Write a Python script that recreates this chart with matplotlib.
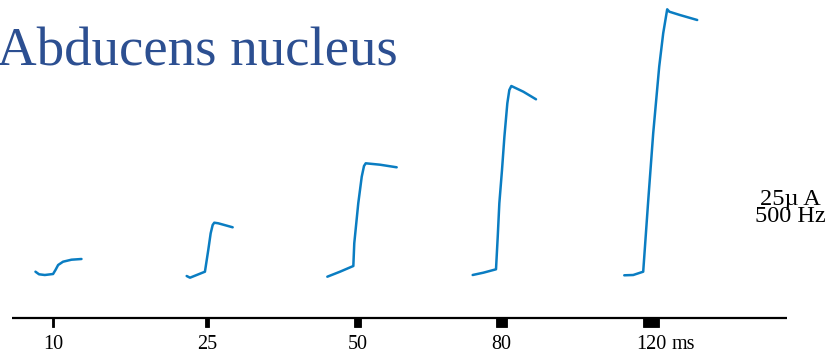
import numpy as np
import matplotlib
matplotlib.use("Agg")
import matplotlib.pyplot as plt

# stimulus trains (ms): onset on the common time axis and train duration
stim_onsets = [302, 1451, 2565, 3630, 4732]
stim_durations = [10, 25, 50, 80, 120]
stim_labels = ["10", "25", "50", "80", "120"]

# eye position traces: time relative to train onset (ms), position (arb. units)
t1 = [-126, -99, -56, 6, 24, 44, 81, 144, 219]
p1 = [4.63, 4.37, 4.30, 4.40, 4.80, 5.30, 5.63, 5.83, 5.90]

t2 = [-141, -116, -4, 21, 39, 54, 66, 96, 204]
p2 = [4.20, 4.03, 4.63, 6.80, 8.47, 9.30, 9.53, 9.47, 9.07]

t3 = [-200, -105, -5, 2, 32, 58, 75, 88, 195, 320]
p3 = [4.13, 4.63, 5.20, 7.47, 11.47, 14.13, 15.20, 15.47, 15.33, 15.07]

t4 = [-175, -95, 0, 13, 25, 45, 63, 85, 100, 115, 205, 300]
p4 = [4.30, 4.53, 4.87, 8.13, 11.47, 14.80, 18.13, 21.47, 22.80, 23.20, 22.63, 21.87]

t5 = [-140, -73, 2, 40, 77, 122, 152, 182, 198, 277, 407]
p5 = [4.27, 4.30, 4.63, 11.80, 18.47, 25.13, 28.47, 30.87, 30.63, 30.30, 29.80]

traces = [(t1, p1), (t2, p2), (t3, p3), (t4, p4), (t5, p5)]

axis_end = 5812
line_color = "#0a7dc2"
title_color = "#2c4f91"
serif = ["Liberation Serif", "DejaVu Serif"]

fig = plt.figure(figsize=(8.31, 3.56), dpi=100)
ax = fig.add_axes([0, 0, 1, 1])
ax.set_xlim(-90, 6142.5)
ax.set_ylim(-3.8, 31.8)
ax.axis("off")

for onset, (t, p) in zip(stim_onsets, traces):
    ax.plot(onset + np.array(t), p, color=line_color, lw=1.8,
            solid_joinstyle="round", solid_capstyle="round")

# time axis with stimulus bars
ax.hlines(0, 0, axis_end, color="black", lw=1.6)
ax.bar(stim_onsets, [-0.9] * len(stim_onsets), width=stim_durations,
       align="edge", color="black", linewidth=0.6, edgecolor="black")

for onset, dur, lab in zip(stim_onsets, stim_durations, stim_labels):
    txt = ax.text(onset + dur / 2, -3.13, lab, ha="center", va="baseline",
                  fontsize=14.5, family=serif)
last = txt
ax.annotate("ms", xy=(1, 0), xycoords=last, xytext=(3.6, 0),
            textcoords="offset points", ha="left", va="bottom",
            fontsize=14.5, family=serif)

# stimulation parameters, two tight lines
ax.text(5840, 9.6, "25\u00b5 A\n500 Hz", ha="center", va="baseline",
        multialignment="center", linespacing=0.74,
        fontsize=17.5, family=serif)

fig.text(-3 / 831, 1 - 65 / 356, "Abducens nucleus", ha="left", va="baseline",
         fontsize=39.5, color=title_color, family=serif)

fig.savefig("out.png", dpi=100)
